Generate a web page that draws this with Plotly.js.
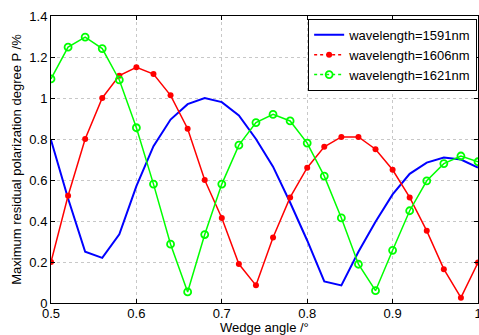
<!DOCTYPE html>
<html>
<head>
<meta charset="utf-8">
<script src="https://cdn.plot.ly/plotly-3.0.1.min.js"></script>
<style>html,body{margin:0;padding:0;background:#fff;}#chart{width:479px;height:335px;}</style>
</head>
<body>
<div id="chart"></div>
<script>
const wedgeAngle = [0.50,0.52,0.54,0.56,0.58,0.60,0.62,0.64,0.66,0.68,0.70,0.72,0.74,0.76,0.78,0.80,0.82,0.84,0.86,0.88,0.90,0.92,0.94,0.96,0.98,1.00];
const p1591 = [0.795,0.51,0.25,0.22,0.335,0.57,0.765,0.895,0.97,1.0,0.98,0.915,0.80,0.665,0.49,0.305,0.105,0.086,0.25,0.396,0.53,0.63,0.685,0.71,0.70,0.66];
const p1606 = [0.20,0.523,0.80,1.0,1.109,1.15,1.117,1.013,0.85,0.60,0.415,0.19,0.086,0.32,0.515,0.66,0.762,0.81,0.81,0.75,0.65,0.515,0.352,0.165,0.026,0.197];
const p1621 = [1.093,1.248,1.297,1.241,1.088,0.855,0.58,0.287,0.054,0.334,0.58,0.77,0.88,0.92,0.888,0.78,0.619,0.415,0.189,0.06,0.257,0.45,0.596,0.68,0.717,0.689];
const seriesNames = ['wavelength=1591nm','wavelength=1606nm','wavelength=1621nm'];
const xTitle = 'Wedge angle /°';
const yTitle = 'Maximum residual polarization degree P /%';

const traces = [
  {x: wedgeAngle, y: p1591, mode:'lines', name: seriesNames[0], showlegend:false,
   line:{color:'#0000ff', width:2}},
  {x: wedgeAngle, y: p1606, mode:'lines+markers', name: seriesNames[1], showlegend:false,
   line:{color:'#ff0000', width:1.5}, marker:{color:'#ff0000', size:6, symbol:'circle'}},
  {x: wedgeAngle, y: p1621, mode:'lines+markers', name: seriesNames[2], showlegend:false,
   line:{color:'#00ff00', width:1.5}, marker:{color:'#00ff00', size:7, symbol:'circle-open', line:{width:1.8}}},
  {x:[null], y:[null], mode:'lines', name: seriesNames[0], line:{color:'#0000ff', width:2}},
  {x:[null], y:[null], mode:'lines+markers', name: seriesNames[1], line:{color:'#ff0000', width:1.5, dash:'dot'}, marker:{color:'#ff0000', size:6}},
  {x:[null], y:[null], mode:'lines+markers', name: seriesNames[2], line:{color:'#00ff00', width:1.5, dash:'dot'}, marker:{color:'#00ff00', size:7, symbol:'circle-open', line:{width:1.8}}}
];

const axisCommon = {
  showline:true, linecolor:'#000', linewidth:1, mirror:'ticks',
  ticks:'inside', ticklen:4, tickcolor:'#000',
  showgrid:true, gridcolor:'#c8c8c8', griddash:'dot', gridwidth:1,
  zeroline:false, tickfont:{family:'Liberation Sans, Arial, sans-serif', size:13, color:'#000'}
};

const layout = {
  width:479, height:335,
  margin:{l:51, r:1, t:16, b:32},
  paper_bgcolor:'#fff', plot_bgcolor:'#fff',
  font:{family:'Liberation Sans, Arial, sans-serif', size:13, color:'#000'},
  xaxis: Object.assign({}, axisCommon, {
    range:[0.5,1], dtick:0.1, tick0:0.5, ticklabeloverflow:'allow', ticklabelstandoff:-2
  }),
  yaxis: Object.assign({}, axisCommon, {
    range:[0,1.4], dtick:0.2, tick0:0,
    title:{text: yTitle, font:{size:13}, standoff:4}
  }),
  annotations:[{
    text: xTitle, xref:'paper', yref:'paper', x:0.5, y:0,
    xanchor:'center', yanchor:'top', yshift:-15, showarrow:false,
    font:{size:13}
  }],
  legend:{x:0.998, xanchor:'right', y:0.99, yanchor:'top',
    bgcolor:'#fff', bordercolor:'#000', borderwidth:1,
    font:{size:13}, tracegroupgap:0, itemwidth:30},
  showlegend:true
};

Plotly.newPlot('chart', traces, layout, {staticPlot:true, displayModeBar:false});
</script>
</body>
</html>
